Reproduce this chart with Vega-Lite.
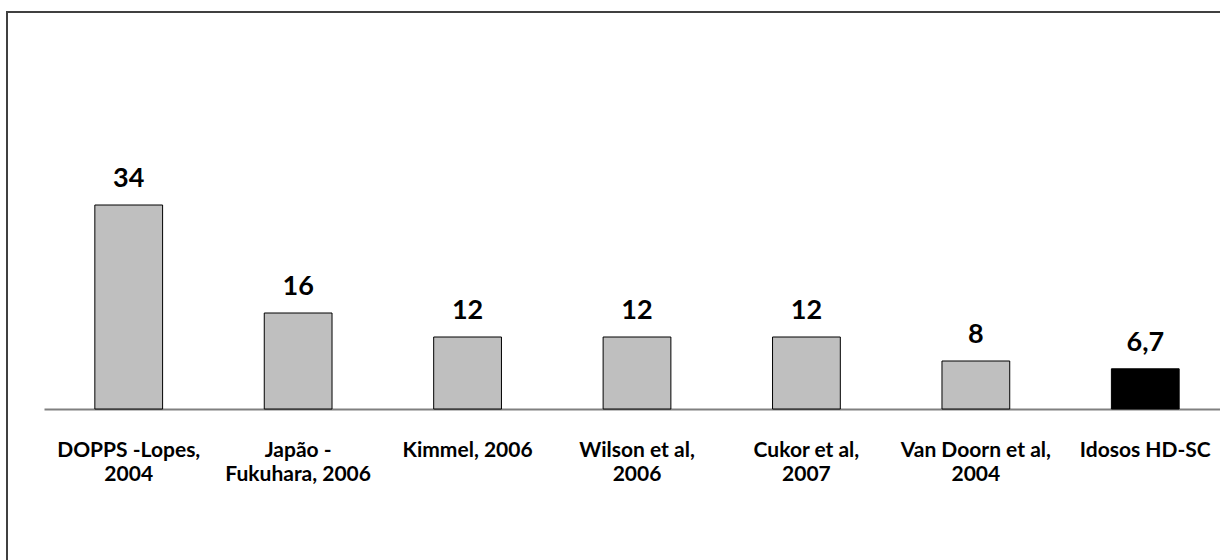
{
  "$schema": "https://vega.github.io/schema/vega-lite/v6.json",
  "width": 1216,
  "height": 551,
  "autosize": {"type": "none"},
  "padding": {"left": 7, "top": 12, "right": -3, "bottom": -3},
  "background": "white",
  "config": {"view": {"stroke": "#404040", "strokeWidth": 2}},
  "data": {
    "values": [
      {"study": "DOPPS -Lopes,|2004", "value": 34, "label": "34", "group": "other"},
      {"study": "Japão -|Fukuhara, 2006", "value": 16, "label": "16", "group": "other"},
      {"study": "Kimmel, 2006", "value": 12, "label": "12", "group": "other"},
      {"study": "Wilson et al,|2006", "value": 12, "label": "12", "group": "other"},
      {"study": "Cukor et al,|2007", "value": 12, "label": "12", "group": "other"},
      {"study": "Van Doorn et al,|2004", "value": 8, "label": "8", "group": "other"},
      {"study": "Idosos HD-SC", "value": 6.7, "label": "6,7", "group": "this"}
    ]
  },
  "encoding": {
    "x": {
      "field": "study",
      "type": "nominal",
      "sort": null,
      "scale": {"range": [37, 1223], "paddingInner": 0.6, "paddingOuter": 0.3},
      "axis": {
        "title": null,
        "orient": "bottom",
        "offset": -154,
        "domainColor": "#808080",
        "domainWidth": 2,
        "ticks": false,
        "labelAngle": 0,
        "labelPadding": 30,
        "labelLimit": 0,
        "labelFont": "Lato",
        "labelFontWeight": "bold",
        "labelFontSize": 21,
        "labelColor": "black",
        "labelLineHeight": 24,
        "labelExpr": "split(datum.label, '|')"
      }
    },
    "y": {
      "field": "value",
      "type": "quantitative",
      "scale": {"domain": [0, 34], "range": [397, 193]},
      "axis": null
    }
  },
  "layer": [
    {
      "mark": {"type": "bar", "stroke": "#000000", "strokeWidth": 1},
      "encoding": {
        "color": {
          "field": "group",
          "type": "nominal",
          "scale": {"domain": ["other", "this"], "range": ["#BFBFBF", "#000000"]},
          "legend": null
        }
      }
    },
    {
      "mark": {"type": "text", "baseline": "bottom", "dy": -12, "font": "Lato", "fontWeight": "bold", "fontSize": 27, "color": "black"},
      "encoding": {"text": {"field": "label", "type": "nominal"}}
    }
  ]
}
